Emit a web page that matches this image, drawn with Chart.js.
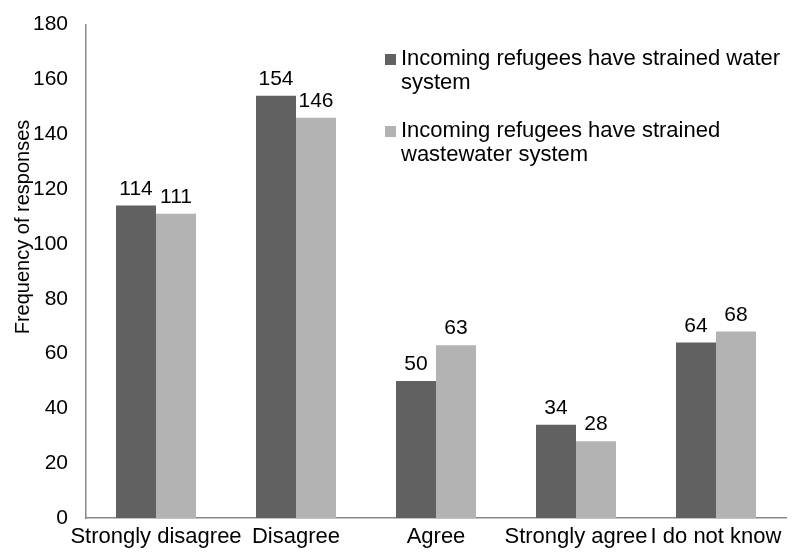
<!DOCTYPE html>
<html>
<head>
<meta charset="utf-8">
<script src="https://cdn.jsdelivr.net/npm/chart.js@4"></script>
<style>
  body { margin: 0; background: #fff; }
  #wrap { width: 793px; height: 560px; }
</style>
</head>
<body>
<div id="wrap"><canvas id="grafica"></canvas></div>
<script>
const categorias = ['Strongly disagree', 'Disagree', 'Agree', 'Strongly agree', 'I do not know'];
const aguaPotable = [114, 154, 50, 34, 64];
const aguaResidual = [111, 146, 63, 28, 68];
const ticksY = [0, 20, 40, 60, 80, 100, 120, 140, 160, 180];
const leyenda = [
  ['Incoming refugees have strained water', 'system'],
  ['Incoming refugees have strained', 'wastewater system']
];

const fuente = 'Liberation Sans, Arial, sans-serif';

// etiquetas con el valor encima de cada barra
const etiquetasValor = {
  id: 'etiquetasValor',
  afterDatasetsDraw(chart) {
    const ctx = chart.ctx;
    ctx.save();
    ctx.font = '21px ' + fuente;
    ctx.fillStyle = '#000';
    ctx.textAlign = 'center';
    ctx.textBaseline = 'alphabetic';
    chart.data.datasets.forEach((ds, i) => {
      chart.getDatasetMeta(i).data.forEach((bar, j) => {
        ctx.fillText(String(ds.data[j]), bar.x, bar.y - 11);
      });
    });
    ctx.restore();
  }
};

// leyenda de varias líneas y título del eje
const extras = {
  id: 'extras',
  afterDraw(chart) {
    const ctx = chart.ctx;
    ctx.save();
    ctx.font = '22px ' + fuente;
    ctx.textBaseline = 'middle';
    const filas = [59, 131];
    chart.data.datasets.forEach((ds, i) => {
      ctx.fillStyle = ds.backgroundColor;
      ctx.fillRect(385, filas[i] - 5, 11, 11);
      ctx.fillStyle = '#000';
      leyenda[i].forEach((linea, k) => {
        ctx.fillText(linea, 401, filas[i] + k * 24);
      });
    });
    ctx.translate(23, 227);
    ctx.rotate(-Math.PI / 2);
    ctx.textAlign = 'center';
    ctx.font = '20px ' + fuente;
    ctx.fillText('Frequency of responses', 0, 0);
    ctx.restore();
  }
};

new Chart(document.getElementById('grafica').getContext('2d'), {
  type: 'bar',
  data: {
    labels: categorias,
    datasets: [
      { label: leyenda[0].join(' '), data: aguaPotable, backgroundColor: '#616161' },
      { label: leyenda[1].join(' '), data: aguaResidual, backgroundColor: '#b3b3b3' }
    ]
  },
  options: {
    responsive: true,
    maintainAspectRatio: false,
    animation: false,
    layout: { padding: { top: 17, right: 7, left: 0, bottom: 0 } },
    plugins: {
      legend: { display: false },
      tooltip: { enabled: false }
    },
    datasets: { bar: { categoryPercentage: 80 / 140, barPercentage: 1 } },
    scales: {
      x: {
        grid: { display: false, drawTicks: false },
        border: { color: '#888', width: 1.5 },
        ticks: { color: '#000', font: { size: 22, family: fuente }, maxRotation: 0, autoSkip: false, padding: 6 },
        afterFit(s) { s.height = 42; }
      },
      y: {
        min: 0,
        max: 180,
        afterBuildTicks(s) { s.ticks = ticksY.map(v => ({ value: v })); },
        grid: { display: false, drawTicks: true, tickLength: 6, tickColor: '#888', drawOnChartArea: false },
        border: { color: '#888', width: 1.5 },
        ticks: { color: '#000', font: { size: 21, family: fuente }, padding: 12 },
        afterFit(s) { s.width = 86; }
      }
    }
  },
  plugins: [etiquetasValor, extras]
});
</script>
</body>
</html>
